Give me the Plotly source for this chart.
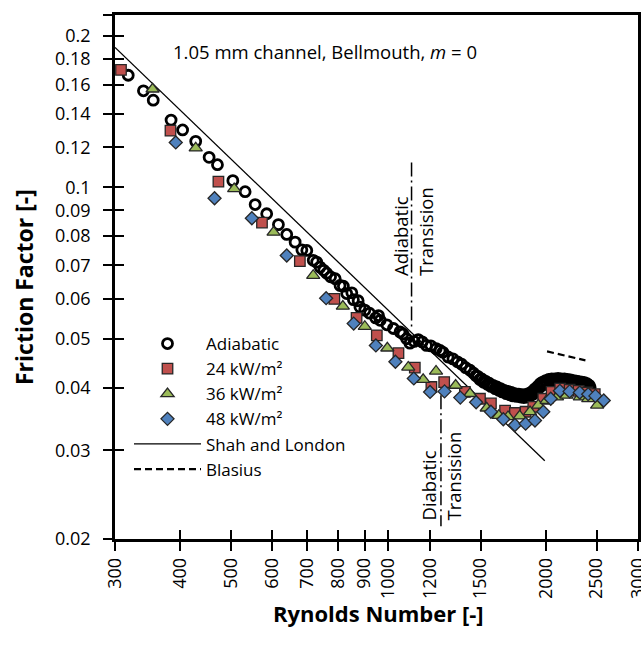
import math
import plotly.graph_objects as go

# ---------------- data ----------------
re_adiabatic = [318, 340, 355, 384, 404, 428, 454, 471, 504, 532, 556, 585, 616, 639, 663, 683,
                698, 718, 729, 740, 752, 762, 775, 791, 808, 820, 832, 851, 857, 875, 882, 901,
                920, 945, 957, 964, 993, 1022, 1052, 1066, 1083, 1099, 1120, 1140, 1160, 1182,
                1205, 1234, 1255, 1271, 1300, 1328, 1355, 1380, 1405, 1432, 1455, 1470, 1495,
                1520, 1545, 1570, 1600, 1625, 1650, 1680, 1705, 1730, 1760, 1790, 1815, 1840,
                1865, 1890, 1915, 1940, 1960, 1985, 2010, 2040, 2065, 2095, 2125, 2155, 2185,
                2215, 2245, 2275, 2300, 2330, 2360, 2385, 2410, 2430,
                # upper edge of the dense band (second run)
                1482, 1508, 1532, 1558, 1585, 1612, 1638, 1665, 1692, 1718, 1745, 1775, 1802,
                1828, 1852, 1878, 1902, 1928, 1950, 1972, 1998, 2025, 2052, 2080, 2110, 2140,
                2170, 2200, 2230, 2260, 2288, 2315, 2345, 2372, 2398, 2420]
f_adiabatic = [0.167, 0.1555, 0.149, 0.136, 0.130, 0.1234, 0.1147, 0.1109, 0.1031, 0.0980,
               0.0924, 0.0886, 0.0843, 0.0806, 0.0778, 0.0751,
               0.0749, 0.0716, 0.0710, 0.0694, 0.0684, 0.0675, 0.0664, 0.0658, 0.0638, 0.0636,
               0.0615, 0.0617, 0.0598, 0.0595, 0.0578, 0.0570, 0.0562, 0.0550, 0.0556, 0.0544,
               0.0533, 0.0524, 0.0516, 0.0511, 0.0500, 0.0490, 0.0494, 0.0498, 0.0493, 0.0485,
               0.0484, 0.0478, 0.0474, 0.0470, 0.0460, 0.0456, 0.0450, 0.0445, 0.0438, 0.0433,
               0.0427, 0.0422, 0.0415, 0.0410, 0.0406, 0.0402, 0.0398, 0.0395, 0.0392, 0.0389,
               0.0387, 0.0385, 0.0384, 0.0383, 0.0382, 0.0383, 0.0385, 0.0388, 0.0393, 0.0399,
               0.0403, 0.0406, 0.0409, 0.0411, 0.0412, 0.0413, 0.0412, 0.0413, 0.0411, 0.0410,
               0.0410, 0.0408, 0.0408, 0.0406, 0.0406, 0.0405, 0.0403, 0.0400,
               0.0421, 0.0416, 0.0412, 0.0408, 0.0404, 0.0401, 0.0398, 0.0395, 0.0393, 0.0391,
               0.0389, 0.0388, 0.0387, 0.0387, 0.0389, 0.0392, 0.0397, 0.0402, 0.0407, 0.0410,
               0.0413, 0.0415, 0.0416, 0.0416, 0.0417, 0.0416, 0.0416, 0.0415, 0.0414, 0.0413,
               0.0412, 0.0411, 0.0410, 0.0409, 0.0407, 0.0404]

re_24 = [308, 383, 473, 573, 677, 788, 869, 950, 1045, 1123, 1208, 1278, 1400, 1496, 1570,
         1671, 1745, 1829, 1892, 1977, 2051, 2130, 2220, 2310, 2400, 2480]
f_24 = [0.1712, 0.1296, 0.1026, 0.0851, 0.0713, 0.0600, 0.0550, 0.0508, 0.0468, 0.0438,
        0.0401, 0.0410, 0.0392, 0.0380, 0.0372, 0.0360, 0.0356, 0.0358, 0.0366, 0.0380,
        0.0392, 0.0398, 0.0396, 0.0394, 0.0391, 0.0388]

re_36 = [354, 428, 507, 603, 718, 818, 901, 995, 1091, 1165, 1233, 1344, 1432, 1541, 1625,
         1693, 1782, 1865, 1934, 2006, 2100, 2190, 2322, 2410, 2506]
f_36 = [0.1567, 0.1197, 0.0993, 0.0814, 0.0668, 0.0580, 0.0529, 0.0479, 0.0439, 0.0415,
        0.0431, 0.0404, 0.0389, 0.0364, 0.0352, 0.0350, 0.0351, 0.0358, 0.0369, 0.0377,
        0.0383, 0.0386, 0.0383, 0.0380, 0.0369]

re_48 = [392, 465, 548, 639, 760, 858, 946, 1031, 1118, 1201, 1280, 1372, 1471, 1570, 1658,
         1745, 1829, 1906, 1977, 2043, 2127, 2220, 2322, 2409, 2487, 2580]
f_48 = [0.1228, 0.0951, 0.0868, 0.0732, 0.0602, 0.0536, 0.0485, 0.0450, 0.0417, 0.0392,
        0.0393, 0.0382, 0.0374, 0.0358, 0.0346, 0.0337, 0.0339, 0.0344, 0.0358, 0.0380,
        0.0394, 0.0393, 0.0391, 0.0388, 0.0385, 0.0377]

shah_re = [300, 1990]
shah_f = [0.1897, 0.0286]

blasius_re = [2010, 2380]
blasius_f = [0.0472, 0.0453]

adi_trans_re = [1107, 1107]
adi_trans_f = [0.112, 0.052]
dia_trans_re = [1260, 1260]
dia_trans_f = [0.0386, 0.0212]

x_ticks = [300, 400, 500, 600, 700, 800, 900, 1000, 1200, 1500, 2000, 2500, 3000]
y_ticks = [0.02, 0.03, 0.04, 0.05, 0.06, 0.07, 0.08, 0.09, 0.1, 0.12, 0.14, 0.16, 0.18, 0.2, 0.22]
y_tick_text = ["0.02", "0.03", "0.04", "0.05", "0.06", "0.07", "0.08", "0.09", "0.1",
               "0.12", "0.14", "0.16", "0.18", "0.2", ""]

x_range = [300, 3000]
y_range = [0.02, 0.22]

# ---------------- figure ----------------
FONT = "Open Sans"
W, H = 641, 657
L, R, T, B = 115, 3, 15, 118
PW, PH = W - L - R, H - T - B


def px(x):
    return (x - L) / PW


def py(y):
    return (H - B - y) / PH


fig = go.Figure()

fig.add_trace(go.Scatter(x=shah_re, y=shah_f, mode="lines", name="Shah and London",
                         line=dict(color="black", width=1.3), legendrank=5))
fig.add_trace(go.Scatter(x=blasius_re, y=blasius_f, mode="lines", name="Blasius",
                         line=dict(color="black", width=2.2, dash="7px,4px"), legendrank=6))
fig.add_trace(go.Scatter(x=adi_trans_re, y=adi_trans_f, mode="lines", showlegend=False,
                         line=dict(color="black", width=1.5, dash="14px,4px,2px,4px")))
fig.add_trace(go.Scatter(x=dia_trans_re, y=dia_trans_f, mode="lines", showlegend=False,
                         line=dict(color="black", width=1.5, dash="14px,4px,2px,4px")))

fig.add_trace(go.Scatter(x=re_adiabatic, y=f_adiabatic, mode="markers", name="Adiabatic",
                         marker=dict(symbol="circle-open", size=10, color="black",
                                     line=dict(width=2.8, color="black")), legendrank=1))
outline = dict(color="#262626", width=1.3)
fig.add_trace(go.Scatter(x=re_24, y=f_24, mode="markers", name="24 kW/m²",
                         marker=dict(symbol="square", size=10.5, color="#C0504D", line=outline),
                         legendrank=2))
fig.add_trace(go.Scatter(x=re_36, y=f_36, mode="markers", name="36 kW/m²",
                         marker=dict(symbol="triangle-up", size=11.5, color="#9BBB59", line=outline),
                         legendrank=3))
fig.add_trace(go.Scatter(x=re_48, y=f_48, mode="markers", name="48 kW/m²",
                         marker=dict(symbol="diamond", size=10, color="#4F81BD", line=outline),
                         legendrank=4))

# empty trace for the overlay axes (inside half of the crossing ticks)
fig.add_trace(go.Scatter(x=[], y=[], xaxis="x2", yaxis="y2", showlegend=False, hoverinfo="skip"))

lx = [math.log10(v) for v in x_range]
ly = [math.log10(v) for v in y_range]
tickfont = dict(family=FONT, size=18, color="black")

fig.update_layout(
    width=W, height=H,
    margin=dict(l=L, r=R, t=T, b=B, pad=0),
    paper_bgcolor="white", plot_bgcolor="white",
    font=dict(family=FONT, color="black"),
    showlegend=True,
    legend=dict(x=px(129), y=py(326), xanchor="left", yanchor="top",
                bgcolor="rgba(0,0,0,0)", borderwidth=0,
                font=dict(family=FONT, size=17, color="black"),
                itemwidth=67, traceorder="normal"),
    xaxis=dict(type="log", range=lx, tickvals=x_ticks, ticktext=[str(v) for v in x_ticks],
               tickangle=-90, ticks="outside", ticklen=9, tickwidth=2, tickcolor="black",
               showline=True, linewidth=2.5, linecolor="black", mirror=True,
               showgrid=False, zeroline=False, tickfont=tickfont, automargin=False,
               ticklabeloverflow="allow"),
    yaxis=dict(type="log", range=ly, tickvals=y_ticks, ticktext=y_tick_text,
               ticks="outside", ticklen=9, tickwidth=2, tickcolor="black",
               showline=True, linewidth=2.5, linecolor="black", mirror=True,
               showgrid=False, zeroline=False, tickfont=tickfont, automargin=False,
               ticklabelstandoff=9, ticklabeloverflow="allow"),
    xaxis2=dict(type="log", range=lx, overlaying="x", anchor="y", side="bottom",
                tickvals=x_ticks, ticks="inside", ticklen=9, tickwidth=2, tickcolor="black",
                showticklabels=False, showline=False, showgrid=False, zeroline=False),
    yaxis2=dict(type="log", range=ly, overlaying="y", anchor="x", side="left",
                tickvals=y_ticks, ticks="inside", ticklen=9, tickwidth=2, tickcolor="black",
                showticklabels=False, showline=False, showgrid=False, zeroline=False),
)

ann_font = dict(family=FONT, size=18.5, color="black")
title_font = dict(family=FONT, size=22, color="black")
annotations = [
    dict(text="1.05 mm channel, Bellmouth, <i>m</i> = 0", x=px(171), y=py(52),
         xanchor="left", yanchor="middle", font=ann_font),
    dict(text="Adiabatic", x=px(400), y=py(278), xanchor="center", yanchor="bottom",
         textangle=-90, font=ann_font),
    dict(text="Transision", x=px(425.5), y=py(278), xanchor="center", yanchor="bottom",
         textangle=-90, font=ann_font),
    dict(text="Diabatic", x=px(427.5), y=py(523), xanchor="center", yanchor="bottom",
         textangle=-90, font=ann_font),
    dict(text="Transision", x=px(453), y=py(523), xanchor="center", yanchor="bottom",
         textangle=-90, font=ann_font),
    dict(text="<b>Rynolds Number [-]</b>", x=px(378), y=py(613), xanchor="center",
         yanchor="middle", font=title_font),
    dict(text="<b>Friction Factor [-]</b>", x=px(24), y=py(287), xanchor="center",
         yanchor="middle", textangle=-90, font=dict(family=FONT, size=23, color="black")),
]
for a in annotations:
    a.update(xref="paper", yref="paper", showarrow=False)
fig.update_layout(annotations=annotations)

fig.write_html("out.html")
